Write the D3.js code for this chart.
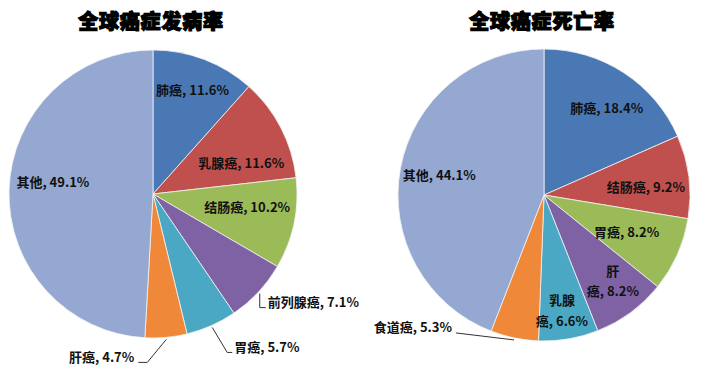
<!DOCTYPE html>
<html>
<head>
<meta charset="utf-8">
<script src="https://cdn.jsdelivr.net/npm/d3@7"></script>
<style>
body { margin: 0; background: #fff; }
svg text { font-family: "Noto Sans CJK SC", "Noto Sans", sans-serif; }
</style>
</head>
<body>
<svg></svg>
<script>
var width = 703, height = 373;

// 発病率
var incidenceNames  = ["肺癌", "乳腺癌", "结肠癌", "前列腺癌", "胃癌", "肝癌", "其他"];
var incidenceValues = [11.6, 11.6, 10.2, 7.1, 5.7, 4.7, 49.1];
var incidenceColors = ["#4a78b4", "#c0504d", "#9bbb59", "#7f62a4", "#4aa8c4", "#f0883a", "#94a8d2"];

// 死亡率
var deathNames  = ["肺癌", "结肠癌", "胃癌", "肝癌", "乳腺癌", "食道癌", "其他"];
var deathValues = [18.4, 9.2, 8.2, 8.2, 6.6, 5.3, 44.1];
var deathColors = ["#4a78b4", "#c0504d", "#9bbb59", "#7f62a4", "#4aa8c4", "#f0883a", "#94a8d2"];

var titles = ["全球癌症发病率", "全球癌症死亡率"];

// ラベル配置 (rf: 半径比, da: 角度補正[deg], lines: 改行, leader: 引き出し線)
var incidenceLayout = [
  {rf: 0.77, da: 0},
  {rf: 0.65, da: 8},
  {rf: 0.66, da: -4},
  {leader: [0, 14, 6]},
  {leader: [15, 25, 5]},
  {leader: [-19, 23, -9]},
  {rf: 0.70, da: 5}
];
var deathLayout = [
  {rf: 0.73, da: 3},
  {rf: 0.70, da: 3},
  {rf: 0.62, da: 0},
  {rf: 0.76, da: -2, lines: 2},
  {rf: 0.81, da: 1, lines: 2},
  {leader: [-58, -7, 0]},
  {rf: 0.73, da: 0}
];

var svg = d3.select("svg").attr("width", width).attr("height", height);

function drawPie(cx, cy, r, names, values, colors, layout, title) {
  var g = svg.append("g").attr("transform", "translate(" + cx + "," + cy + ")");
  var pie = d3.pie().sort(null).value(d => d);
  var arcs = pie(values);
  var arc = d3.arc().innerRadius(0).outerRadius(r);

  g.selectAll("path")
    .data(arcs)
    .enter()
    .append("path")
    .attr("d", arc)
    .attr("fill", (d, i) => colors[i])
    .attr("stroke", "#f2f2f2")
    .attr("stroke-width", 0.8);

  // タイトル
  svg.append("text")
    .attr("x", cx - 2)
    .attr("y", 29)
    .attr("text-anchor", "middle")
    .attr("font-size", 20)
    .attr("font-weight", 900)
    .attr("letter-spacing", 0.8)
    .attr("stroke", "#000")
    .attr("stroke-width", 1.2)
    .attr("fill", "#000")
    .text(title);

  arcs.forEach(function(d, i) {
    var L = layout[i];
    var mid = (d.startAngle + d.endAngle) / 2;
    var label = names[i] + ", " + d3.format(".1f")(values[i]) + "%";
    if (L.leader) {
      var p0 = [Math.sin(mid) * (r + 2), -Math.cos(mid) * (r + 2)];
      var p1 = [p0[0] + L.leader[0], p0[1] + L.leader[1]];
      var p2 = [p1[0] + L.leader[2], p1[1]];
      g.append("path")
        .attr("d", d3.line()([p0, p1, p2]))
        .attr("fill", "none")
        .attr("stroke", "#333")
        .attr("stroke-width", 1);
      var right = L.leader[2] < 0 || (L.leader[2] == 0 && L.leader[0] < 0);
      g.append("text")
        .attr("x", p2[0] + (right ? -4 : 2))
        .attr("y", p2[1] - 5)
        .attr("dy", "0.35em")
        .attr("text-anchor", right ? "end" : "start")
        .attr("font-size", 13)
        .attr("font-weight", 700)
        .attr("fill", "#111")
        .text(label);
    } else {
      var a = mid + L.da * Math.PI / 180;
      var x = Math.sin(a) * r * L.rf, y = -Math.cos(a) * r * L.rf;
      var t = g.append("text")
        .attr("x", x)
        .attr("y", y)
        .attr("text-anchor", "middle")
        .attr("font-size", 13)
        .attr("font-weight", 700)
        .attr("fill", "#111");
      if (L.lines == 2) {
        var n = names[i];
        var first = n.slice(0, n.length - 1);
        var rest = n.slice(-1) + ", " + d3.format(".1f")(values[i]) + "%";
        t.append("tspan").attr("x", x).attr("dy", "-0.5em").text(first);
        t.append("tspan").attr("x", x).attr("dy", "1.6em").text(rest);
      } else {
        t.attr("dy", "0.35em").text(label);
      }
    }
  });
}

drawPie(153, 194, 144, incidenceNames, incidenceValues, incidenceColors, incidenceLayout, titles[0]);
drawPie(544, 195, 146, deathNames, deathValues, deathColors, deathLayout, titles[1]);
</script>
</body>
</html>
